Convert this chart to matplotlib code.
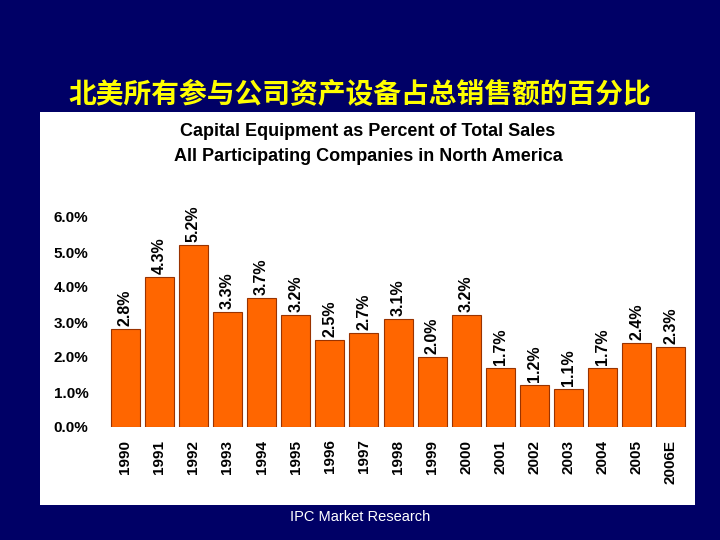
import matplotlib
matplotlib.use("Agg")
import matplotlib.pyplot as plt
from matplotlib.patches import Rectangle

years = ["1990","1991","1992","1993","1994","1995","1996","1997","1998","1999",
         "2000","2001","2002","2003","2004","2005","2006E"]
values = [2.8,4.3,5.2,3.3,3.7,3.2,2.5,2.7,3.1,2.0,3.2,1.7,1.2,1.1,1.7,2.4,2.3]
yticks = [0,1,2,3,4,5,6]

plt.rcParams['font.family'] = ['Noto Sans CJK SC', 'DejaVu Sans']
fig = plt.figure(figsize=(7.2,5.4), dpi=100)
fig.patch.set_facecolor('#000066')
fig.patches.append(Rectangle((40/720, 1-505/540), 655/720, 393/540, transform=fig.transFigure,
                             facecolor='white', edgecolor='none', zorder=-5))
fig.text(0.5, 1-95/540, "北美所有参与公司资产设备占总销售额的百分比", color='#FFFF00',
         fontsize=20, fontweight='bold', ha='center', va='center')
fig.text(368/720, 1-144/540, "Capital Equipment as Percent of Total Sales\nAll Participating Companies in North America",
         family=['Liberation Sans'], fontsize=13, fontweight='bold', ha='center', va='center', linespacing=1.6)
fig.text(0.5, 1-517/540, "IPC Market Research", color='white', family=['Liberation Sans'],
         fontsize=10.5, ha='center', va='center')

ax = fig.add_axes([108/720, 1-427/540, 580/720, 210/540])
ax.set_zorder(5)
ax.set_facecolor('none')
x = list(range(len(years)))
ax.bar(x, values, width=0.85, color='#FF6600', edgecolor='#993300', linewidth=0.8)
ax.set_xlim(-0.5, len(years)-0.5)
ax.set_ylim(0, 6)
for s in ax.spines.values():
    s.set_visible(False)
ax.set_yticks(yticks)
ax.set_yticklabels([f"{v:.1f}%" for v in yticks], family=['Liberation Sans'], fontsize=11, fontweight='bold')
ax.tick_params(axis='y', length=0, pad=14)
ax.set_xticks(x)
ax.set_xticklabels(years, rotation=90, family=['Liberation Sans'], fontsize=11, fontweight='bold')
ax.tick_params(axis='x', length=0, pad=9)
for xi, v in zip(x, values):
    ax.text(xi, v + 0.08, f"{v:.1f}%", rotation=90, ha='center', va='bottom',
            family=['Liberation Sans'], fontsize=11.5, fontweight='bold', clip_on=False)
fig.savefig("out.png", dpi=100, facecolor=fig.get_facecolor())
